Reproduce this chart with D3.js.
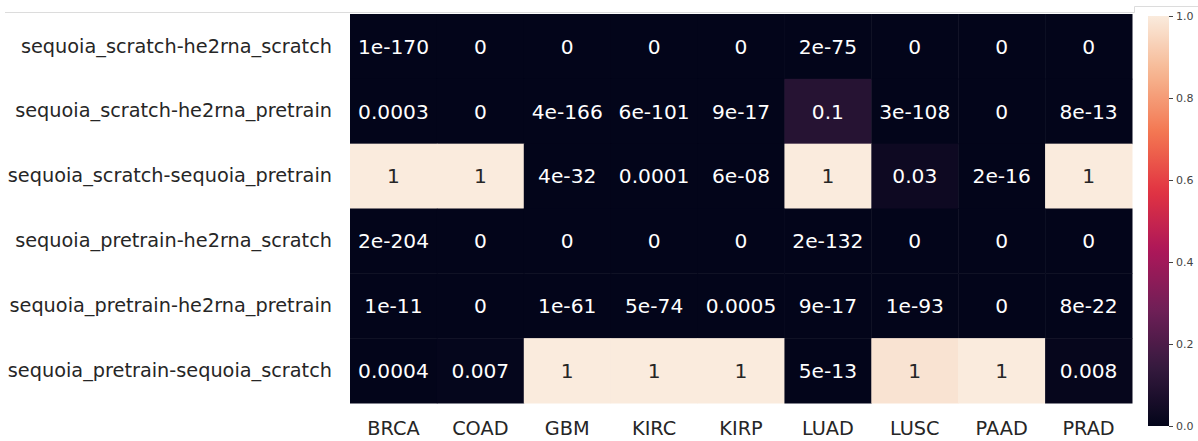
<!DOCTYPE html>
<html>
<head>
<meta charset="utf-8">
<script src="https://cdn.jsdelivr.net/npm/d3@7"></script>
<style>
  html, body { margin: 0; padding: 0; background: #ffffff; }
  svg { display: block; font-family: "DejaVu Sans", sans-serif; }
</style>
</head>
<body>
<svg id="chart" width="1198" height="441"></svg>
<script>
// Cancer types (columns) and pairwise model comparisons (rows)
const cancers = ["BRCA", "COAD", "GBM", "KIRC", "KIRP", "LUAD", "LUSC", "PAAD", "PRAD"];
const comparisons = [
  "sequoia_scratch-he2rna_scratch",
  "sequoia_scratch-he2rna_pretrain",
  "sequoia_scratch-sequoia_pretrain",
  "sequoia_pretrain-he2rna_scratch",
  "sequoia_pretrain-he2rna_pretrain",
  "sequoia_pretrain-sequoia_scratch"
];

// p-values, one array per comparison (same order as cancers)
const pScratchVsHe2rnaScratch   = [1e-170, 0, 0, 0, 0, 2e-75, 0, 0, 0];
const pScratchVsHe2rnaPretrain  = [0.0003, 0, 4e-166, 6e-101, 9e-17, 0.1, 3e-108, 0, 8e-13];
const pScratchVsSequoiaPretrain = [1, 1, 4e-32, 0.0001, 6e-08, 1, 0.03, 2e-16, 1];
const pPretrainVsHe2rnaScratch  = [2e-204, 0, 0, 0, 0, 2e-132, 0, 0, 0];
const pPretrainVsHe2rnaPretrain = [1e-11, 0, 1e-61, 5e-74, 0.0005, 9e-17, 1e-93, 0, 8e-22];
const pPretrainVsSequoiaScratch = [0.0004, 0.007, 1, 1, 1, 5e-13, 0.98, 1, 0.008];

const colorbarTicks = [0.0, 0.2, 0.4, 0.6, 0.8, 1.0];

const rowsData = [
  pScratchVsHe2rnaScratch,
  pScratchVsHe2rnaPretrain,
  pScratchVsSequoiaPretrain,
  pPretrainVsHe2rnaScratch,
  pPretrainVsHe2rnaPretrain,
  pPretrainVsSequoiaScratch
];

const cells = [];
rowsData.forEach((vals, r) => vals.forEach((v, c) => {
  cells.push({ row: comparisons[r], col: cancers[c], value: v });
}));

// "rocket"-style sequential colormap
const rocketStops = ["#03051a", "#35193e", "#701f57", "#ad1759", "#e13342", "#f37651", "#f6b48f", "#faebdd"];
const color = d3.scaleLinear()
  .domain(rocketStops.map((_, i) => i / (rocketStops.length - 1)))
  .range(rocketStops)
  .interpolate(d3.interpolateRgb)
  .clamp(true);

// Python-style "{:.1g}" formatting
function fmt1g(v) {
  if (v === 0) return "0";
  const s = v.toExponential(0);            // e.g. "6e-8"
  const [m, eStr] = s.split("e");
  const e = +eStr;
  if (e < -4 || e >= 1) {
    const sign = e < 0 ? "-" : "+";
    const a = Math.abs(e);
    return m + "e" + sign + (a < 10 ? "0" + a : a);
  }
  return (+s).toFixed(Math.max(0, -e));
}

const svg = d3.select("#chart");

// page edge lines at the top
svg.append("path")
  .attr("d", "M5,12.5H1134.5V6.5H1198")
  .attr("fill", "none")
  .attr("stroke", "#dcdcdc")
  .attr("stroke-width", 1);

const hm = { left: 350, right: 1132, top: 14, bottom: 403 };

const x = d3.scaleBand().domain(cancers).range([hm.left, hm.right]);
const y = d3.scaleBand().domain(comparisons).range([hm.top, hm.bottom]);

// heatmap cells
svg.append("g").selectAll("rect")
  .data(cells)
  .join("rect")
  .attr("x", d => x(d.col))
  .attr("y", d => y(d.row))
  .attr("width", x.bandwidth() + 0.5)
  .attr("height", y.bandwidth() + 0.5)
  .attr("fill", d => color(d.value));

// cell annotations
svg.append("g").selectAll("text")
  .data(cells)
  .join("text")
  .attr("x", d => x(d.col) + x.bandwidth() / 2)
  .attr("y", d => y(d.row) + y.bandwidth() / 2)
  .attr("dy", "0.36em")
  .attr("text-anchor", "middle")
  .attr("font-size", 20.2)
  .attr("fill", d => d3.lab(color(d.value)).l > 50 ? "#262626" : "#ffffff")
  .text(d => fmt1g(d.value));

// row labels
const yAxis = svg.append("g")
  .attr("transform", `translate(${hm.left},0)`)
  .call(d3.axisLeft(y).tickSize(0).tickPadding(18));
yAxis.select(".domain").remove();
yAxis.selectAll("text")
  .attr("font-size", 19.3)
  .attr("font-family", "DejaVu Sans, sans-serif")
  .attr("fill", "#262626");

// column labels
const xAxis = svg.append("g")
  .attr("transform", `translate(0,${hm.bottom})`)
  .call(d3.axisBottom(x).tickSize(0).tickPadding(18));
xAxis.select(".domain").remove();
xAxis.selectAll("text")
  .attr("font-size", 19.3)
  .attr("font-family", "DejaVu Sans, sans-serif")
  .attr("fill", "#262626");

// colorbar
const cb = { left: 1148, width: 21, top: 16, bottom: 426 };
const cbScale = d3.scaleLinear().domain([0, 1]).range([cb.bottom, cb.top]);

const grad = svg.append("defs").append("linearGradient")
  .attr("id", "cbGrad")
  .attr("x1", 0).attr("y1", 1).attr("x2", 0).attr("y2", 0);
grad.selectAll("stop")
  .data(d3.range(0, 1.0001, 0.02))
  .join("stop")
  .attr("offset", d => d)
  .attr("stop-color", d => color(d));

svg.append("rect")
  .attr("x", cb.left)
  .attr("y", cb.top)
  .attr("width", cb.width)
  .attr("height", cb.bottom - cb.top)
  .attr("fill", "url(#cbGrad)");

const cbAxis = svg.append("g")
  .attr("transform", `translate(${cb.left + cb.width},0)`)
  .call(d3.axisRight(cbScale).tickValues(colorbarTicks).tickFormat(d3.format(".1f")).tickSize(4).tickPadding(3));
cbAxis.select(".domain").remove();
cbAxis.selectAll("line").attr("stroke", "#444").attr("stroke-width", 1);
cbAxis.selectAll("text")
  .attr("font-size", 11)
  .attr("font-family", "DejaVu Sans, sans-serif")
  .attr("fill", "#444");
</script>
</body>
</html>
